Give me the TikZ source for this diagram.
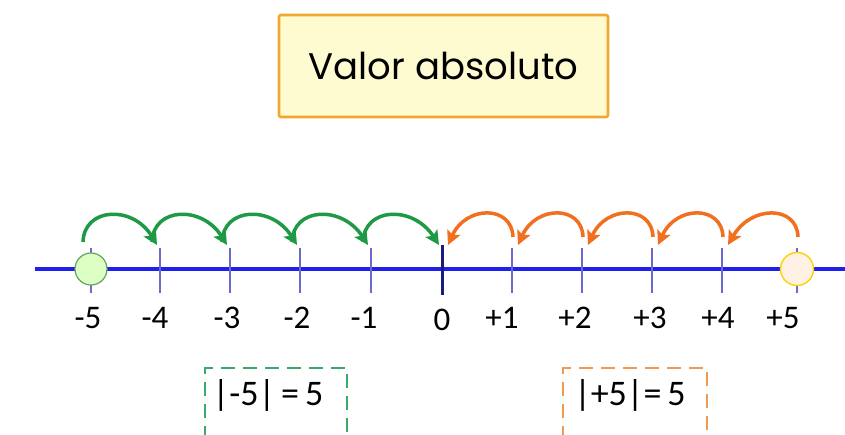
\documentclass[tikz,border=0pt]{standalone}
\usepackage{fontspec}
\setmainfont{Carlito}
\newfontfamily\titlefont{Poppins}
\usetikzlibrary{arrows.meta}
\definecolor{linblue}{HTML}{2020EE}
\definecolor{tickblue}{HTML}{6A6AD0}
\definecolor{zeroblue}{HTML}{1A1A80}
\definecolor{arcgreen}{HTML}{1E9A46}
\definecolor{arcorange}{HTML}{F07020}
\definecolor{titlefill}{HTML}{FFFBD0}
\definecolor{titleborder}{HTML}{F0A830}
\definecolor{gbox}{HTML}{3AAA6A}
\definecolor{obox}{HTML}{F09A50}
\tikzset{
  ticklbl/.style={font=\fontsize{33}{33}\selectfont, anchor=center, inner sep=0pt},
  tickline/.style={tickblue, line width=1.6pt},
  jumpg/.style={arcgreen, line width=3.5pt, -{Stealth[length=14pt,width=14pt,inset=3pt]}},
  jumpo/.style={arcorange, line width=3.5pt, -{Stealth[length=14pt,width=14pt,inset=3pt]}},
  absbox/.style={dashed, dash pattern=on 14pt off 8pt, line width=2.2pt},
}
\begin{document}
\begin{tikzpicture}[x=1pt,y=-1pt]
\useasboundingbox (0,0) rectangle (845,434);
\fill[white] (0,0) rectangle (845,434);
% title
\node[draw=titleborder, fill=titlefill, line width=2.6pt, rounded corners=2pt,
      minimum width=329pt, minimum height=102pt, font=\titlefont\fontsize{37}{37}\selectfont]
      (title) at (443.5,66) {Valor absoluto};
% number line
\draw[linblue, line width=4pt] (35,269) -- (845,269);
% ticks
\foreach \n/\x in {m5/91,m4/160,m3/230,m2/300,m1/371,p1/512,p2/582,p3/652,p4/722,p5/797}{
  \coordinate (t\n) at (\x,269);
  \draw[tickline] (\x,248) -- (\x,293);
}
\coordinate (t0) at (442,269);
\draw[zeroblue, line width=3pt] (442,245) -- (442,295);
% circles
\node[circle, draw=green!40!black!60, fill=green!15!white!90!yellow, line width=1.2pt, minimum size=32pt, inner sep=0pt] (cm5) at (tm5) {};
\node[circle, draw=yellow!70!orange, fill=orange!10!white, line width=1.4pt, minimum size=33pt, inner sep=0pt] (cp5) at (tp5) {};
% labels
\foreach \n/\x/\t in {m5/88/-5,m4/155/-4,m3/227/-3,m2/297/-2,m1/364/-1,p1/502/+1,p2/575/+2,p3/650/+3,p4/718/+4,p5/783/+5}{
  \node[ticklbl] (l\n) at (\x,318) {\t};
}
\node[ticklbl] (l0) at (442,320) {0};
% green jumps
\foreach \a/\b in {m5/m4,m4/m3,m3/m2,m2/m1,m1/0}{
  \draw[jumpg] ([shift={(-8,-27)}]t\a) .. controls ([shift={(-7,-62)}]t\a) and ([shift={(42,-64)}]t\a) .. ([shift={(-3,-24)}]t\b);
}
% orange jumps
\foreach \a/\b in {p5/p4,p4/p3,p3/p2,p2/p1,p1/0}{
  \draw[jumpo] ([shift={(1,-32)}]t\a) .. controls ([shift={(0,-64)}]t\a) and ([shift={(-46,-64)}]t\a) .. ([shift={(6,-24)}]t\b);
}
% absolute value boxes
\draw[absbox, gbox] (205,440) -- (205,368) -- (347,368) -- (347,440);
\node[font=\fontsize{36}{36}\selectfont, inner sep=0pt] (absneg) at (268,395) {|-5|\,=\,5};
\draw[absbox, obox] (563,440) -- (563,368) -- (707,368) -- (707,440);
\node[font=\fontsize{36}{36}\selectfont, inner sep=0pt] (abspos) at (630,395) {|+5|=\,5};
\end{tikzpicture}
\end{document}
